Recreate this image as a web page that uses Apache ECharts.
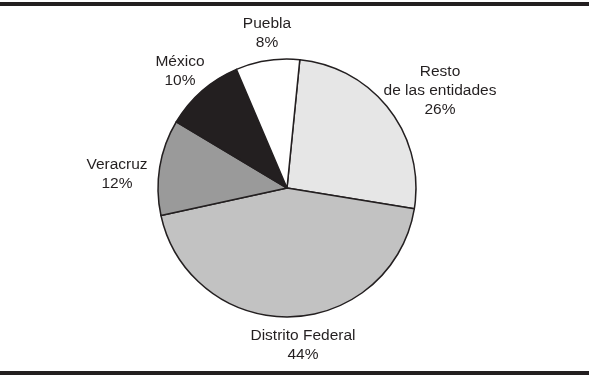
<!DOCTYPE html>
<html><head><meta charset="utf-8">
<script src="https://cdn.jsdelivr.net/npm/echarts@6/dist/echarts.min.js"></script>
<style>html,body{margin:0;padding:0;background:#fff}#c{width:589px;height:375px}</style>
</head><body><div id="c"></div>
<script>
const categories = ['Resto\nde las entidades', 'Distrito Federal', 'Veracruz', 'México', 'Puebla'];
const values = [26, 44, 12, 10, 8];
const colors = ['#e6e6e6', '#c2c2c2', '#9a9a9a', '#231f20', '#ffffff'];
const labelPos = [[440, 91], [303, 345], [117, 174], [180, 71], [267, 33]];

const chart = echarts.init(document.getElementById('c'));
chart.setOption({
  animation: false,
  graphic: [
    {type: 'rect', shape: {x: 0, y: 2, width: 589, height: 4}, style: {fill: '#231f20'}},
    {type: 'rect', shape: {x: 0, y: 371, width: 589, height: 4}, style: {fill: '#231f20'}}
  ],
  series: [{
    type: 'pie',
    center: [287, 188],
    radius: [0, 129],
    startAngle: 84.3,
    clockwise: true,
    data: categories.map((n, i) => ({name: n, value: values[i], itemStyle: {color: colors[i]}})),
    itemStyle: {borderColor: '#231f20', borderWidth: 1.5},
    emphasis: {disabled: true},
    label: {
      show: true,
      position: 'outside',
      formatter: p => p.name + '\n' + p.value + '%',
      fontFamily: 'Liberation Sans, Arial, sans-serif',
      fontSize: 15.5,
      lineHeight: 19,
      color: '#231f20',
      align: 'center'
    },
    labelLine: {show: false},
    labelLayout: p => ({x: labelPos[p.dataIndex][0], y: labelPos[p.dataIndex][1], align: 'center', verticalAlign: 'middle'})
  }]
});
</script></body></html>
